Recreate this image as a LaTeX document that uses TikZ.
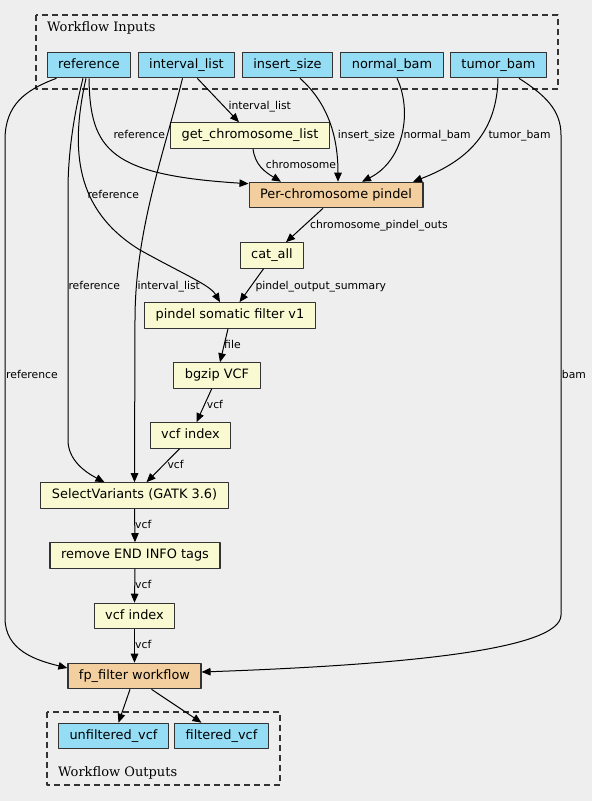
\documentclass[tikz,border=0pt]{standalone}
\usepackage{fontspec}
\usepackage{xcolor}
\usepackage{tikz}
\usetikzlibrary{arrows.meta}

\newfontfamily\boxfont{DejaVu Sans}
\newfontfamily\clusterfont{DejaVu Serif}

\definecolor{bgcol}{HTML}{EEEEEE}
\definecolor{inputcol}{HTML}{94DDF4}
\definecolor{stepcol}{HTML}{FAFAD2}
\definecolor{subwfcol}{HTML}{F3CFA0}
\definecolor{framecol}{HTML}{333333}

\tikzset{
  wfbox/.style={draw=framecol, line width=1.1pt, minimum height=25.5pt, inner xsep=11pt, inner ysep=0pt,
    text height=9.4pt, text depth=2.6pt, font=\boxfont\fontsize{12.9}{15}\selectfont},
  inputbox/.style={wfbox, fill=inputcol},
  stepbox/.style={wfbox, fill=stepcol},
  subwfbox/.style={wfbox, fill=subwfcol},
  flow/.style={-{Triangle[length=9pt,width=7.5pt]}, line width=1pt},
  lbl/.style={font=\boxfont\fontsize{10.8}{12}\selectfont, inner sep=0pt, anchor=base west},
  cluster/.style={draw=framecol, dash pattern=on 6pt off 4pt, line width=1.2pt},
  clusterlbl/.style={font=\clusterfont\fontsize{13}{15}\selectfont, inner sep=0pt, anchor=base west},
}

\begin{document}
\begin{tikzpicture}[x=1pt, y=-1pt, line join=round]

  % Background and bounding box
  \fill[bgcol] (0,0) rectangle (592,801);
  \useasboundingbox (0,0) rectangle (592,801);

  % Clusters
  \draw[cluster] (36,15) rectangle (558,89);
  \node[clusterlbl] (inlbl) at (47,31.5) {Workflow Inputs};
  \draw[cluster] (47,712) rectangle (280,785);
  \node[clusterlbl] (outlbl) at (58,776) {Workflow Outputs};

  % Workflow inputs
  \node[inputbox] (reference) at (89,65) {reference};
  \node[inputbox] (intlist) at (186.5,65) {interval\_list};
  \node[inputbox] (insize) at (287.5,65) {insert\_size};
  \node[inputbox] (normal) at (392,65) {normal\_bam};
  \node[inputbox] (tumor) at (498.5,65) {tumor\_bam};

  % Steps
  \node[stepbox] (getchrom) at (250,135.5) {get\_chromosome\_list};
  \node[subwfbox] (perchrom) at (336,195) {Per-chromosome pindel};
  \node[stepbox] (catall) at (272,255.5) {cat\_all};
  \node[stepbox] (somfilter) at (230,315.5) {pindel somatic filter v1};
  \node[stepbox] (bgzip) at (217,375.5) {bgzip VCF};
  \node[stepbox] (index1) at (190.5,435.5) {vcf index};
  \node[stepbox] (selvar) at (134.5,495.5) {SelectVariants (GATK 3.6)};
  \node[stepbox] (removeend) at (135,555.5) {remove END INFO tags};
  \node[stepbox] (index2) at (134.5,616) {vcf index};
  \node[subwfbox] (fpfilter) at (134.5,676) {fp\_filter workflow};

  % Workflow outputs
  \node[inputbox] (unfiltered) at (113.5,736) {unfiltered\_vcf};
  \node[inputbox] (filtered) at (221.5,736) {filtered\_vcf};

  % Edges from reference
  \draw[flow] ([xshift=-32.5pt]reference.south) .. controls (25,90) and (5,105) .. (5,140) -- (5,618)
    .. controls (5,650) and (35,660) .. ([yshift=8pt]fpfilter.west);
  \draw[flow] ([xshift=-6pt]reference.south) .. controls (75,110) and (68,150) .. (68,190) -- (68,440)
    .. controls (68,460) and (85,472) .. ([xshift=-30pt]selvar.north);
  \draw[flow] ([xshift=-3pt]reference.south) .. controls (70,150) and (75,210) .. (140,250)
    .. controls (185,275) and (210,285) .. ([xshift=-10pt]somfilter.north);
  \draw[flow] (reference.south) .. controls (90,150) and (110,175) .. ([yshift=-2pt]perchrom.north west);
  \node[lbl] (l1) at (6,378.3) {reference};
  \node[lbl] (l2) at (68.3,289) {reference};
  \node[lbl] (l3) at (87.3,198.7) {reference};
  \node[lbl] (l4) at (113.3,138.7) {reference};

  % Edges from interval_list
  \draw[flow] ([xshift=10.8pt]intlist.south) -- ([xshift=-11pt]getchrom.north);
  \draw[flow] ([xshift=-4pt]intlist.south) .. controls (165,150) and (135,230) .. (135,320) -- (selvar.north);
  \node[lbl] (l5) at (228.3,109) {interval\_list};
  \node[lbl] (l6) at (137.3,289) {interval\_list};

  % Edges into Per-chromosome pindel
  \draw[flow] ([xshift=12.5pt]insize.south) .. controls (330,105) and (338,140) .. ([xshift=2pt]perchrom.north);
  \draw[flow] ([xshift=5pt]normal.south) .. controls (412,110) and (405,160) .. ([xshift=26pt]perchrom.north);
  \draw[flow] ([xshift=-0.5pt]tumor.south) .. controls (497,130) and (470,160) .. ([xshift=77pt]perchrom.north);
  \draw[flow] ([xshift=3pt]getchrom.south) .. controls (255,165) and (265,172) .. ([xshift=-55pt]perchrom.north);
  \node[lbl] (l7) at (337.7,138.7) {insert\_size};
  \node[lbl] (l8) at (403.3,138.7) {normal\_bam};
  \node[lbl] (l9) at (488.3,138.7) {tumor\_bam};
  \node[lbl] (l10) at (265.7,168.3) {chromosome};

  % tumor_bam to fp_filter
  \draw[flow] ([xshift=20.5pt]tumor.south) .. controls (545,95) and (561,110) .. (561,135) -- (561,615)
    .. controls (561,650) and (400,665) .. ([yshift=4pt]fpfilter.east);
  \node[lbl] (l11) at (561.7,378.3) {bam};

  % Main chain
  \draw[flow] ([xshift=-13pt]perchrom.south) -- ([xshift=14pt]catall.north);
  \draw[flow] ([xshift=-8.5pt]catall.south) -- ([xshift=9.5pt]somfilter.north);
  \draw[flow] ([xshift=-2pt]somfilter.south) -- ([xshift=3pt]bgzip.north);
  \draw[flow] ([xshift=-5.3pt]bgzip.south) -- ([xshift=6pt]index1.north);
  \draw[flow] ([xshift=-11pt]index1.south) -- ([xshift=12pt]selvar.north);
  \draw[flow] (selvar.south) -- (removeend.south |- removeend.north);
  \draw[flow] (removeend.south) -- (index2.north);
  \draw[flow] (index2.south) -- (fpfilter.north);
  \node[lbl] (l12) at (310,228.3) {chromosome\_pindel\_outs};
  \node[lbl] (l13) at (255.3,289) {pindel\_output\_summary};
  \node[lbl] (l14) at (224,348.3) {file};
  \node[lbl] (l15) at (206.7,408.3) {vcf};
  \node[lbl] (l16) at (167.3,468.3) {vcf};
  \node[lbl] (l17) at (135,528.3) {vcf};
  \node[lbl] (l18) at (135,588.3) {vcf};
  \node[lbl] (l19) at (135,648.3) {vcf};

  % Outputs
  \draw[flow] ([xshift=-4.5pt]fpfilter.south) -- ([xshift=5pt]unfiltered.north);
  \draw[flow] ([xshift=17pt]fpfilter.south) -- ([xshift=-20pt]filtered.north);

\end{tikzpicture}
\end{document}
